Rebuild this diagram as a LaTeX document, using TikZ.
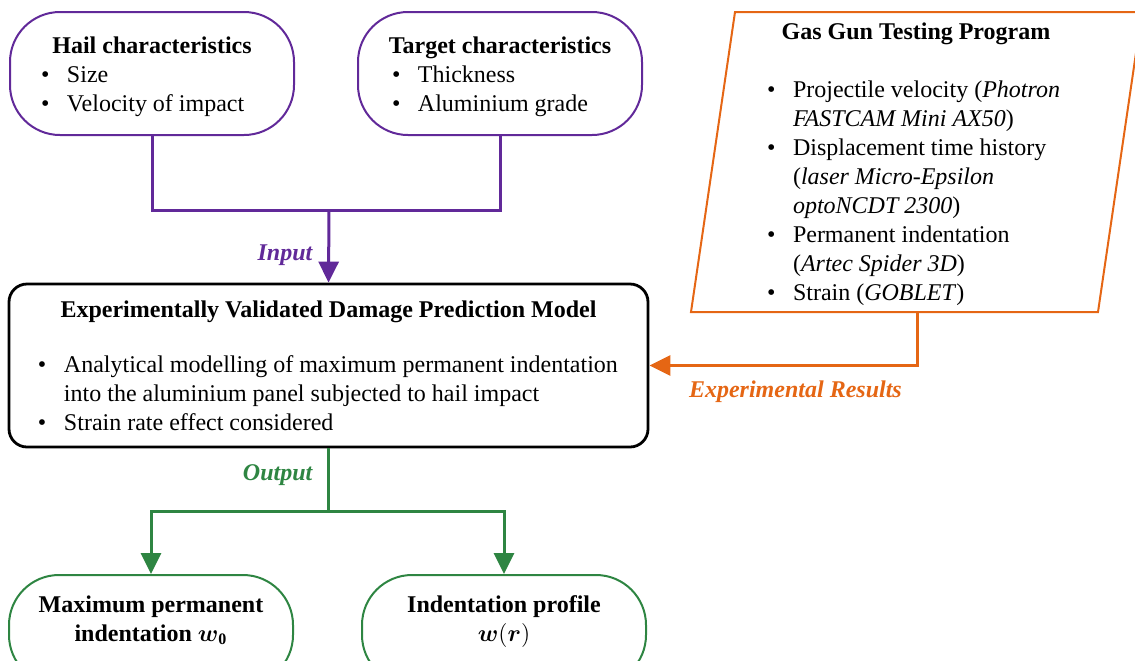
\documentclass[tikz,border=0pt]{standalone}
\usepackage{amsmath}
\usepackage{fontspec}
\setmainfont{Liberation Serif}
\usetikzlibrary{arrows.meta,positioning}
\definecolor{purpleIn}{rgb}{0.38,0.16,0.60}
\definecolor{orangeExp}{rgb}{0.90,0.40,0.08}
\definecolor{greenOut}{rgb}{0.18,0.52,0.26}
\newcommand{\bul}{\makebox[13pt][l]{\textbullet}}

\begin{document}
\begin{tikzpicture}[x=0.5pt,y=-0.5pt,
    font=\fontsize{12}{14.5}\selectfont,
    inBox/.style={draw=purpleIn,line width=1pt,rounded corners=25pt,
      minimum width=142pt,minimum height=61.5pt,align=center,inner sep=0pt},
    outBox/.style={draw=greenOut,line width=1pt,rounded corners=25pt,
      minimum width=142pt,minimum height=55pt,align=center,inner sep=0pt},
    modelBox/.style={draw=black,line width=1.4pt,rounded corners=9pt,
      minimum width=319.5pt,minimum height=81.5pt,align=center,inner sep=0pt},
    gasBox/.style={draw=orangeExp,line width=1pt},
    tip/.style={-{Triangle[width=10pt,length=10.5pt]}},
    inLine/.style={draw=purpleIn,line width=1.5pt},
    outLine/.style={draw=greenOut,line width=1.5pt},
    expLine/.style={draw=orangeExp,line width=1.5pt}]
  \useasboundingbox (0,0) rectangle (1135,660);
  \clip (0,0) rectangle (1135,660);

  % inputs
  \node[inBox] (hail) at (152,73.5) {%
    \rule{0pt}{11.2pt}\textbf{Hail characteristics}\\
    \makebox[111pt][l]{\bul Size}\\
    \makebox[111pt][l]{\bul Velocity of impact}};
  \node[inBox] (target) at (500,73.5) {%
    \rule{0pt}{11.2pt}\textbf{Target characteristics}\\
    \makebox[108pt][l]{\bul Thickness}\\
    \makebox[108pt][l]{\bul Aluminium grade}};

  % model
  \node[modelBox] (model) at (328.5,365.5) {%
    \textbf{Experimentally Validated Damage Prediction Model}\\[13pt]
    \makebox[290.5pt][l]{\bul Analytical modelling of maximum permanent indentation}\\
    \makebox[290.5pt][l]{\hspace*{13pt}into the aluminium panel subjected to hail impact}\\
    \makebox[290.5pt][l]{\bul Strain rate effect considered}};

  % gas gun tests
  \coordinate (gasTL) at (735,12);
  \coordinate (gasTR) at (1142,12);
  \coordinate (gasBR) at (1098,312);
  \coordinate (gasBL) at (691,312);
  \draw[gasBox] (gasTL) -- (gasTR) -- (gasBR) -- (gasBL) -- cycle;
  \node[align=center,inner sep=0pt] (gas) at (916,164.4) {%
    \textbf{Gas Gun Testing Program}\\[14.5pt]
    \makebox[149pt][l]{\bul Projectile velocity (\textit{Photron}}\\
    \makebox[149pt][l]{\hspace*{13pt}\textit{FASTCAM Mini AX50})}\\
    \makebox[149pt][l]{\bul Displacement time history}\\
    \makebox[149pt][l]{\hspace*{13pt}(\textit{laser Micro-Epsilon}}\\
    \makebox[149pt][l]{\hspace*{13pt}\textit{optoNCDT 2300})}\\
    \makebox[149pt][l]{\bul Permanent indentation}\\
    \makebox[149pt][l]{\hspace*{13pt}(\textit{Artec Spider 3D})}\\
    \makebox[149pt][l]{\bul Strain (\textit{GOBLET})}};

  % outputs
  \node[outBox] (maxw) at (151,630) {%
    \textbf{Maximum permanent}\\
    \textbf{indentation $\boldsymbol{w}_{\mathbf{0}}$}\rule[-11.7pt]{0pt}{11.7pt}};
  \node[outBox] (wprof) at (504,630) {%
    \textbf{Indentation profile}\\
    $\boldsymbol{w}(\boldsymbol{r})$\rule[-11.7pt]{0pt}{11.7pt}};

  % connectors
  \coordinate (inJoin) at (329,210);
  \draw[inLine] (hail.south) |- (inJoin) -| (target.south);
  \draw[inLine,tip,purpleIn] (inJoin) -- (model.north);
  \node[anchor=base east,text=purpleIn] (inLbl) at (320,260) {\textbf{\textit{Input}}};

  \coordinate (gasOut) at (917,312);
  \draw[expLine,tip,orangeExp] (gasOut) |- (model.east);
  \node[anchor=base west,text=orangeExp] (expLbl) at (682,397) {\textbf{\textit{Experimental Results}}};

  \coordinate (outJoin) at (328.5,511);
  \draw[outLine] (model.south) -- (outJoin);
  \draw[outLine,tip,greenOut] (outJoin) -| (maxw.north);
  \draw[outLine,tip,greenOut] (outJoin) -| (wprof.north);
  \node[anchor=base east,text=greenOut] (outLbl) at (320,480) {\textbf{\textit{Output}}};
\end{tikzpicture}
\end{document}
